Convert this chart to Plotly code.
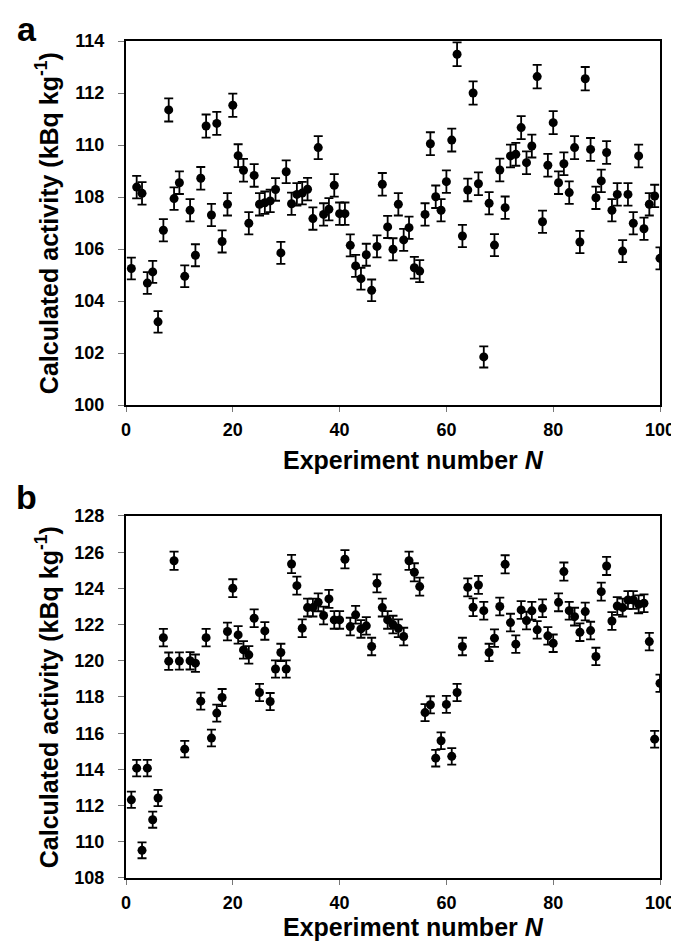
import plotly.graph_objects as go

experiment = list(range(1, 101))

activity_a = [
    105.25, 108.38, 108.14, 104.69, 105.12, 103.20, 106.72, 111.35, 107.94, 108.55,
    104.95, 107.49, 105.76, 108.72, 110.73, 107.31, 110.83, 106.29, 107.72, 111.53,
    109.59, 109.03, 106.99, 108.83, 107.72, 107.78, 107.85, 108.29, 105.85, 108.97,
    107.74, 108.10, 108.15, 108.30, 107.17, 109.90, 107.33, 107.53, 108.45, 107.36,
    107.36, 106.14, 105.35, 104.86, 105.78, 104.41, 106.10, 108.49, 106.85, 105.99,
    107.72, 106.35, 106.82, 105.28, 105.15, 107.33, 110.05, 108.01, 107.49, 108.59,
    110.19, 113.49, 106.50, 108.27, 112.00, 108.51, 101.85, 107.76, 106.15, 109.04,
    107.59, 109.58, 109.64, 110.67, 109.32, 109.96, 112.63, 107.05, 109.22, 110.86,
    108.55, 109.28, 108.17, 109.90, 106.27, 112.55, 109.83, 107.97, 108.62, 109.71,
    107.49, 108.10, 105.92, 108.10, 106.99, 109.58, 106.78, 107.72, 108.04, 105.64,
]

activity_b = [
    112.32, 114.07, 109.53, 114.07, 111.22, 112.42, 121.28, 119.98, 125.53, 119.99,
    115.12, 120.00, 119.87, 117.77, 121.28, 115.73, 117.11, 117.97, 121.62, 124.01,
    121.43, 120.60, 120.33, 122.35, 118.25, 121.65, 117.75, 119.55, 120.46, 119.55,
    125.35, 124.15, 121.80, 122.94, 122.94, 123.23, 122.50, 123.42, 122.26, 122.26,
    125.61, 121.89, 122.54, 121.76, 121.93, 120.79, 124.28, 122.94, 122.26, 122.00,
    121.80, 121.34, 125.53, 124.89, 124.10, 117.14, 117.57, 114.62, 115.58, 117.59,
    114.72, 118.25, 120.79, 124.06, 122.96, 124.19, 122.77, 120.46, 121.25, 123.00,
    125.33, 122.11, 120.92, 122.81, 122.22, 122.76, 121.71, 122.90, 121.38, 120.97,
    123.23, 124.93, 122.77, 122.44, 121.58, 122.72, 121.67, 120.24, 123.82, 125.24,
    122.20, 123.03, 122.94, 123.36, 123.36, 123.12, 123.18, 121.06, 115.67, 118.76,
]

x_ticks = [0, 20, 40, 60, 80, 100]
y_ticks_a = list(range(100, 115, 2))
y_ticks_b = list(range(108, 129, 2))

FONT = "Liberation Sans, Arial, sans-serif"

fig = go.Figure()

err = dict(type="percent", value=0.4, color="black", thickness=1.8, width=4.5)
mk = dict(color="black", size=9)

fig.add_trace(go.Scatter(x=experiment, y=activity_a, mode="markers", marker=mk,
                         error_y=err, xaxis="x", yaxis="y", showlegend=False))
fig.add_trace(go.Scatter(x=experiment, y=activity_b, mode="markers", marker=mk,
                         error_y=err, xaxis="x2", yaxis="y2", showlegend=False))

tickfont = dict(family=FONT, size=18, color="black", weight="bold")

def xa(anchor):
    return dict(range=[0, 100], tickvals=x_ticks, ticktext=[str(v) for v in x_ticks],
                anchor=anchor, showgrid=False, zeroline=False, showline=True,
                linecolor="black", linewidth=2, mirror=True, ticks="outside",
                ticklen=5, tickcolor="#777", tickwidth=1, tickfont=tickfont,
                ticklabelstandoff=2)

def ya(rng, vals, domain, anchor):
    return dict(range=rng, tickvals=vals, ticktext=[str(v) for v in vals],
                domain=domain, anchor=anchor, showgrid=False, zeroline=False,
                showline=True, linecolor="black", linewidth=2, mirror=True,
                ticks="outside", ticklen=6, tickcolor="#777", tickwidth=1,
                tickfont=tickfont, ticklabelstandoff=10)

fig.update_layout(
    width=679, height=945,
    margin=dict(l=118, r=19, t=33, b=75),
    paper_bgcolor="white", plot_bgcolor="white",
    xaxis=xa("y"),
    yaxis=ya([100, 114], y_ticks_a, [0.5651, 1.0], "x"),
    xaxis2=xa("y2"),
    yaxis2=ya([108, 128], y_ticks_b, [0.0, 0.4325], "x2"),
)

title_font = dict(family=FONT, size=25, color="black")
ytitle = "<b>Calculated activity (kBq kg<sup>-1</sup>)</b>"
xtitle = "<b>Experiment number <i>N</i></b>"

# paper y = (870 - pixel_y) / 837 ; paper x = (pixel_x - 118) / 542
ann = [
    dict(text=ytitle, x=-0.1476, y=0.7826, textangle=-90),
    dict(text=ytitle, x=-0.1476, y=0.2162, textangle=-90),
    dict(text=xtitle, x=0.539, y=0.4994),
    dict(text=xtitle, x=0.539, y=-0.0585),
]
for a in ann:
    fig.add_annotation(xref="paper", yref="paper", showarrow=False,
                       xanchor="center", yanchor="middle", font=title_font, **a)

label_font = dict(family=FONT, size=34, color="black")
fig.add_annotation(text="<b>a</b>", xref="paper", yref="paper", x=-0.1863, y=1.0395,
                   showarrow=False, xanchor="center", yanchor="top", font=label_font)
fig.add_annotation(text="<b>b</b>", xref="paper", yref="paper", x=-0.1863, y=0.4547,
                   showarrow=False, xanchor="center", yanchor="middle", font=label_font)

fig.write_html("out.html")
